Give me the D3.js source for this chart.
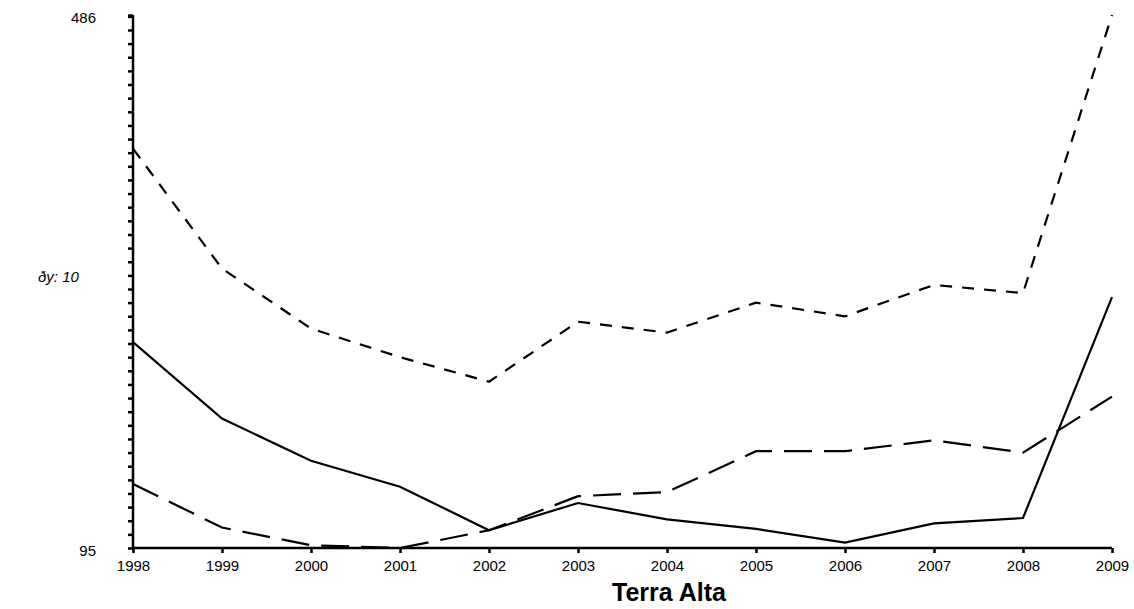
<!DOCTYPE html>
<html>
<head>
<meta charset="utf-8">
<script src="https://cdn.jsdelivr.net/npm/d3@7"></script>
<style>
  body { margin: 0; background: #fff; }
  svg text { font-family: "Liberation Sans", Arial, sans-serif; fill: #000; }
</style>
</head>
<body>
<div id="chart"></div>
<script>
// data
let years = [1998, 1999, 2000, 2001, 2002, 2003, 2004, 2005, 2006, 2007, 2008, 2009];
let solidSeries = [246, 190, 159, 140, 108, 128, 116, 109, 99, 113, 117, 279];
let shortDashSeries = [388, 300, 256, 235, 217, 261, 253, 275, 265, 288, 282, 486];
let longDashSeries = [142, 110, 97, 95, 108, 133, 136, 166, 166, 174, 165, 206];
let yMin = 95, yMax = 486, yStep = 10;

let width = 1134, height = 609;

let svg = d3.select("#chart")
  .append("svg")
  .attr("width", width)
  .attr("height", height);

let x = d3.scaleLinear()
  .domain([years[0], years[years.length - 1]])
  .range([133, 1112]);

let y = d3.scaleLinear()
  .domain([yMin, yMax])
  .range([548, 15]);

// y axis: minor ticks every 10 from the bottom, labels only at ends
let yTicks = d3.range(yMin, yMax, yStep).concat([yMax]);

let yAxis = svg.append("g")
  .attr("transform", "translate(133,0)")
  .call(d3.axisLeft(y).tickValues(yTicks).tickSize(5).tickFormat(""));

yAxis.select(".domain").attr("stroke-width", 2.5).attr("d", "M0," + y(yMax) + "V" + y(yMin));
yAxis.selectAll(".tick line").attr("stroke-width", 2.5);

svg.append("text")
  .attr("x", 96)
  .attr("y", y(yMax) + 8)
  .attr("text-anchor", "end")
  .attr("font-size", "15px")
  .text(yMax);

svg.append("text")
  .attr("x", 96)
  .attr("y", y(yMin) + 8)
  .attr("text-anchor", "end")
  .attr("font-size", "15px")
  .text(yMin);

svg.append("text")
  .attr("x", 38)
  .attr("y", 282)
  .attr("font-size", "15px")
  .attr("font-style", "italic")
  .text("ðy: 10");

// x axis
let xAxis = svg.append("g")
  .attr("transform", "translate(0,548)")
  .call(d3.axisBottom(x).tickValues(years).tickSize(5).tickFormat(d3.format("d")));

xAxis.select(".domain").attr("stroke-width", 2.5).attr("d", "M" + x(years[0]) + ",0H" + x(years[years.length - 1]));
xAxis.selectAll(".tick line").attr("stroke-width", 2.5);
xAxis.selectAll(".tick text")
  .attr("dy", null)
  .attr("y", 23)
  .attr("font-size", "15px")
  .attr("font-family", "Liberation Sans, Arial, sans-serif")
  .attr("fill", "#000");

// series
let line = d3.line()
  .x((d, i) => x(years[i]))
  .y(d => y(d));

let series = [
  { values: shortDashSeries, dash: "12,10" },
  { values: longDashSeries, dash: "28,12" },
  { values: solidSeries, dash: null }
];

svg.selectAll("path.series")
  .data(series)
  .enter()
  .append("path")
  .attr("class", "series")
  .attr("d", d => line(d.values))
  .attr("fill", "none")
  .attr("stroke", "#000")
  .attr("stroke-width", 2.2)
  .attr("stroke-dasharray", d => d.dash);

// title
svg.append("text")
  .attr("x", 669)
  .attr("y", 601)
  .attr("text-anchor", "middle")
  .attr("font-size", "25px")
  .attr("font-weight", "bold")
  .text("Terra Alta");
</script>
</body>
</html>
